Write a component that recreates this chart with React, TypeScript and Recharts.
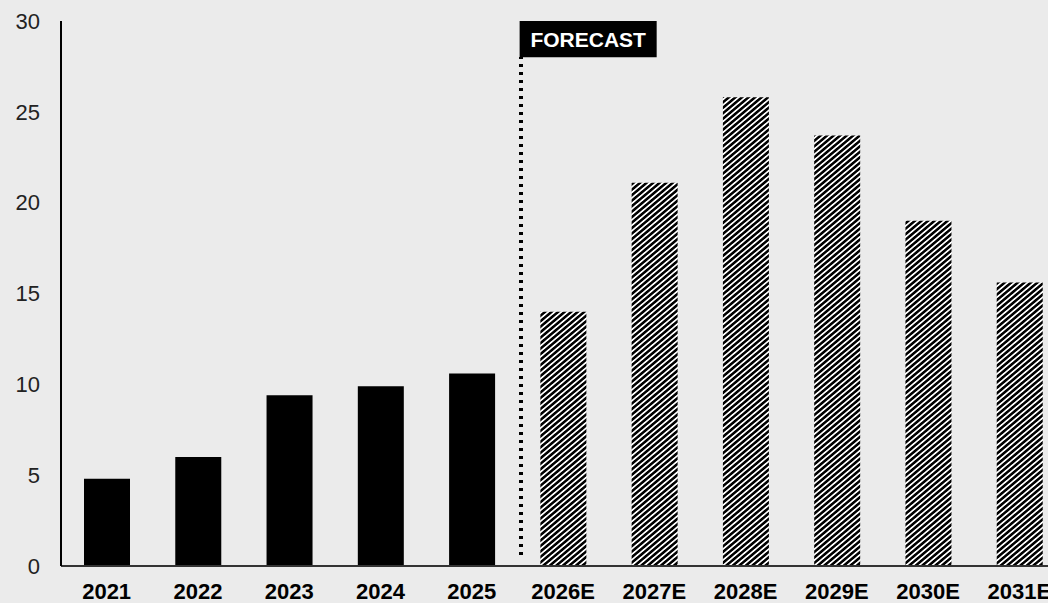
import { BarChart, Bar, XAxis, YAxis, Cell, ReferenceLine, ReferenceArea } from 'recharts'

const years = ['2021', '2022', '2023', '2024', '2025', '2026E', '2027E', '2028E', '2029E', '2030E', '2031E']
const values = [4.8, 6.0, 9.4, 9.9, 10.6, 14.0, 21.1, 25.8, 23.7, 19.0, 15.6]
const yTicks = [0, 5, 10, 15, 20, 25, 30]

const data = years.map((year, i) => ({
  year,
  value: values[i],
  forecast: year.endsWith('E')
}))

// forecast divider and tag, on a hidden 0..10 axis spanning the plot width
const dividerX = 4.582
const tagX = [4.568, 5.933]

export default function App() {
  return (
    <div
      style={{
        position: 'absolute',
        left: 0,
        top: 0,
        width: 1048,
        height: 603,
        overflow: 'hidden',
        background: '#ebebeb',
        fontFamily: '"Liberation Sans", Arial, sans-serif'
      }}
    >
      <BarChart
        width={1066}
        height={603}
        data={data}
        margin={{ top: 21, right: 1, bottom: 0, left: 0 }}
      >
        <defs>
          <pattern id="hatch" patternUnits="userSpaceOnUse" width="4.2" height="10" patternTransform="rotate(50)">
            <rect width="4.2" height="10" fill="#fff" shapeRendering="crispEdges" />
            <rect width="2.3" height="10" fill="#000" shapeRendering="crispEdges" />
          </pattern>
        </defs>
        <XAxis
          dataKey="year"
          height={37}
          tickLine={false}
          tickMargin={11}
          axisLine={{ stroke: '#333', strokeWidth: 2 }}
          tick={{ fill: '#000', fontSize: 22, fontWeight: 'bold' }}
          interval={0}
        />
        <XAxis xAxisId="n" type="number" domain={[0, 10]} allowDataOverflow hide />
        <YAxis
          width={61}
          domain={[0, 30]}
          ticks={yTicks}
          tickLine={false}
          tickMargin={15}
          axisLine={{ stroke: '#000', strokeWidth: 2 }}
          tick={{ fill: '#222', fontSize: 22 }}
        />
        <Bar dataKey="value" barSize={46} isAnimationActive={false}>
          {data.map((d) => (
            <Cell key={d.year} fill={d.forecast ? 'url(#hatch)' : '#000'} />
          ))}
        </Bar>
        <ReferenceLine
          xAxisId="n"
          segment={[{ x: dividerX, y: 0.6 }, { x: dividerX, y: 28 }]}
          stroke="#000"
          strokeWidth={4}
          strokeDasharray="3 5"
          shapeRendering="crispEdges"
        />
        <ReferenceArea
          xAxisId="n"
          x1={tagX[0]}
          x2={tagX[1]}
          y1={28}
          y2={30}
          fill="#000"
          fillOpacity={1}
          stroke="none"
          label={{ value: 'FORECAST', fill: '#fff', fontSize: 21, fontWeight: 'bold', position: 'center' }}
        />
      </BarChart>
    </div>
  )
}
